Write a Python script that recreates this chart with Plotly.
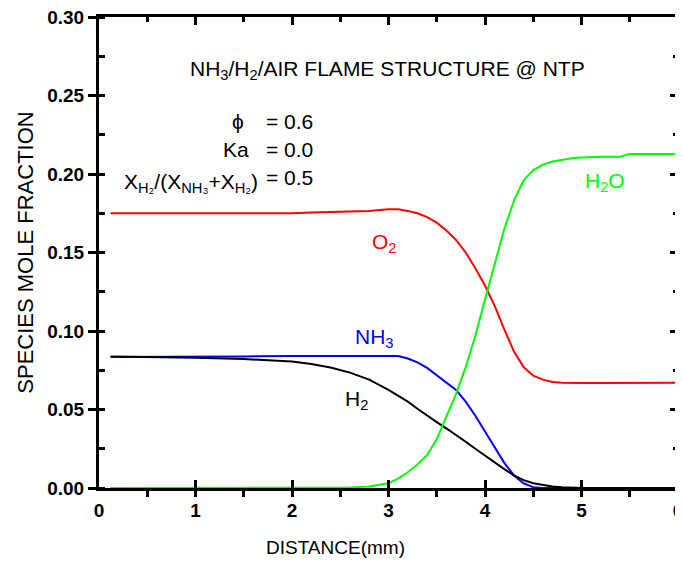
import plotly.graph_objects as go

# ---- data ----
distance_mm = [0.12, 0.5, 1.0, 1.5, 2.0, 2.2, 2.4, 2.6, 2.8, 3.0, 3.1, 3.2, 3.3, 3.4,
               3.5, 3.6, 3.7, 3.8, 3.9, 4.0, 4.1, 4.2, 4.3, 4.4, 4.5, 4.6, 4.7, 4.8,
               4.9, 5.0, 5.2, 5.4, 5.5, 5.6, 5.8, 6.0]

o2 = [0.175, 0.175, 0.175, 0.175, 0.175, 0.1755, 0.1758, 0.176, 0.1765, 0.1775, 0.1775,
      0.1765, 0.175, 0.1725, 0.169, 0.164, 0.158, 0.150, 0.140, 0.129, 0.116, 0.101,
      0.087, 0.077, 0.0715, 0.069, 0.0675, 0.067, 0.0668, 0.0668, 0.0668, 0.0668,
      0.067, 0.067, 0.067, 0.067]

nh3 = [0.0835, 0.0835, 0.0835, 0.0838, 0.084, 0.084, 0.0841, 0.0842, 0.0842, 0.0842,
       0.084, 0.0825, 0.080, 0.0765, 0.072, 0.067, 0.0625, 0.055, 0.046, 0.036, 0.026,
       0.016, 0.008, 0.003, 0.0005, 0.0, 0.0, 0.0, 0.0, 0.0, 0.0, 0.0, 0.0, 0.0, 0.0, 0.0]

h2 = [0.0838, 0.0835, 0.083, 0.0822, 0.0805, 0.079, 0.0768, 0.0735, 0.069, 0.0625,
      0.059, 0.055, 0.0505, 0.046, 0.042, 0.038, 0.034, 0.0295, 0.025, 0.0205, 0.016,
      0.012, 0.008, 0.005, 0.003, 0.0018, 0.001, 0.0005, 0.0002, 0.0, 0.0, 0.0, 0.0,
      0.0, 0.0, 0.0]

h2o = [0.0, 0.0, 0.0, 0.0, 0.0, 0.0, 0.0, 0.0003, 0.001, 0.003, 0.006, 0.010, 0.015,
       0.021, 0.031, 0.045, 0.060, 0.077, 0.097, 0.120, 0.143, 0.165, 0.183, 0.196,
       0.2025, 0.206, 0.208, 0.209, 0.210, 0.2105, 0.211, 0.211, 0.2127, 0.2128,
       0.2128, 0.2128]

x_ticks = [0, 1, 2, 3, 4, 5, 6]
y_ticks = [0.00, 0.05, 0.10, 0.15, 0.20, 0.25, 0.30]

FONT = "Liberation Sans, Arial, sans-serif"

fig = go.Figure()
for vals, col in [(o2, "#ff0000"), (nh3, "#0000ff"), (h2, "#000000"), (h2o, "#00ff00")]:
    fig.add_trace(go.Scatter(x=distance_mm, y=vals, mode="lines",
                             line=dict(color=col, width=2), showlegend=False,
                             hoverinfo="skip"))

# empty helper trace to activate the mirrored top/right axes
fig.add_trace(go.Scatter(x=[None], y=[None], xaxis="x2", yaxis="y2",
                         showlegend=False, hoverinfo="skip"))

# the page body adds an 8px offset; margins compensate for it
fig.update_layout(
    width=683, height=564,
    margin=dict(l=91, r=13, t=9, b=84),
    paper_bgcolor="white", plot_bgcolor="white",
    font=dict(family=FONT, color="black"),
    xaxis=dict(range=[0, 6], tickvals=x_ticks, ticktext=[str(v) for v in x_ticks],
               ticks="inside", ticklen=8, tickwidth=2.5, tickcolor="black",
               minor=dict(ticks="outside", dtick=0.5, ticklen=6, tickwidth=2.5,
                          tickcolor="black", showgrid=False),
               showline=True, linewidth=3, linecolor="black", showgrid=False,
               zeroline=False, automargin=False, ticklabelstandoff=3,
               ticklabeloverflow="allow",
               tickfont=dict(family=FONT, size=19, weight="bold")),
    yaxis=dict(range=[0, 0.3], tickvals=y_ticks, ticktext=[f"{v:.2f}" for v in y_ticks],
               ticks="outside", ticklen=8, tickwidth=2.5, tickcolor="black",
               minor=dict(ticks="inside", dtick=0.025, ticklen=6, tickwidth=2.5,
                          tickcolor="black", showgrid=False),
               showline=True, linewidth=3, linecolor="black", showgrid=False,
               zeroline=False, automargin=False, ticklabeloverflow="allow",
               tickfont=dict(family=FONT, size=19, weight="bold"),
               title=dict(text="SPECIES MOLE FRACTION", font=dict(family=FONT, size=22),
                          standoff=8)),
    xaxis2=dict(range=[0, 6], overlaying="x", side="top", anchor="y2",
                tickvals=x_ticks, ticks="inside", ticklen=8, tickwidth=2.5,
                tickcolor="black",
                minor=dict(ticks="inside", dtick=0.5, ticklen=5, tickwidth=2.5,
                           tickcolor="black", showgrid=False),
                showticklabels=False, showline=True, linewidth=3, linecolor="black",
                showgrid=False, zeroline=False, automargin=False),
    yaxis2=dict(range=[0, 0.3], overlaying="y", side="right", anchor="x2",
                tickvals=y_ticks, ticks="inside", ticklen=8, tickwidth=2.5,
                tickcolor="black",
                minor=dict(ticks="inside", dtick=0.025, ticklen=5, tickwidth=2.5,
                           tickcolor="black", showgrid=False),
                showticklabels=False, showline=True, linewidth=3, linecolor="black",
                showgrid=False, zeroline=False, automargin=False),
)

# x-axis title (placed left of centre, as in the reference)
fig.add_annotation(text="DISTANCE(mm)", xref="paper", yref="paper", x=0.409, y=-0.127,
                   xanchor="center", yanchor="middle", showarrow=False,
                   font=dict(family=FONT, size=19, color="black"))

ann_font = dict(family=FONT, size=21, color="black")
annotations = [
    dict(x=2.985, y=0.2665, text="NH<sub>3</sub>/H<sub>2</sub>/AIR FLAME STRUCTURE @ NTP",
         xanchor="center", font=ann_font),
    dict(x=1.52, y=0.2335, text="ϕ", xanchor="right", font=ann_font),
    dict(x=1.71, y=0.2335, text="= 0.6", xanchor="left", font=ann_font),
    dict(x=1.57, y=0.2153, text="Ka", xanchor="right", font=ann_font),
    dict(x=1.71, y=0.2153, text="= 0.0", xanchor="left", font=ann_font),
    dict(x=1.67, y=0.194,
         text="X<sub>H₂</sub>/(X<sub>NH₃</sub>+X<sub>H₂</sub>)",
         xanchor="right", font=ann_font),
    dict(x=1.71, y=0.1975, text="= 0.5", xanchor="left", font=ann_font),
    dict(x=2.96, y=0.156, text="O<sub>2</sub>", xanchor="center",
         font=dict(family=FONT, size=21, color="#ff0000")),
    dict(x=2.86, y=0.0955, text="NH<sub>3</sub>", xanchor="center",
         font=dict(family=FONT, size=21, color="#0000ff")),
    dict(x=2.67, y=0.056, text="H<sub>2</sub>", xanchor="center",
         font=dict(family=FONT, size=21, color="#000000")),
    dict(x=5.24, y=0.195, text="H<sub>2</sub>O", xanchor="center",
         font=dict(family=FONT, size=21, color="#00ff00")),
]
for a in annotations:
    a.update(xref="x", yref="y", showarrow=False, yanchor="middle")
    fig.add_annotation(**a)

fig.write_html("out.html")
